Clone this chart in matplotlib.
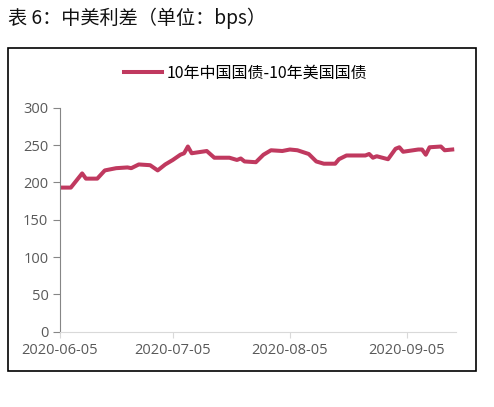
import matplotlib
matplotlib.use("Agg")
import matplotlib.pyplot as plt
import matplotlib.dates as mdates
from matplotlib.patches import Rectangle
import pandas as pd

plt.rcParams['font.family'] = ['Noto Sans CJK SC', 'DejaVu Sans']

# spread (bps)
dates = ['2020-06-05', '2020-06-08', '2020-06-11', '2020-06-12', '2020-06-15',
         '2020-06-17', '2020-06-20', '2020-06-23', '2020-06-24', '2020-06-26',
         '2020-06-29', '2020-07-01', '2020-07-03', '2020-07-05', '2020-07-07',
         '2020-07-08', '2020-07-09', '2020-07-10', '2020-07-14', '2020-07-16',
         '2020-07-20', '2020-07-22', '2020-07-23', '2020-07-24', '2020-07-27',
         '2020-07-29', '2020-07-31', '2020-08-03', '2020-08-05', '2020-08-07',
         '2020-08-10', '2020-08-12', '2020-08-14', '2020-08-17', '2020-08-18',
         '2020-08-20', '2020-08-25', '2020-08-26', '2020-08-27', '2020-08-28',
         '2020-08-31', '2020-09-02', '2020-09-03', '2020-09-04', '2020-09-08',
         '2020-09-09', '2020-09-10', '2020-09-11', '2020-09-14', '2020-09-15',
         '2020-09-17']
spread = [193, 193, 212, 205, 205,
          216, 219, 220, 219, 224,
          223, 216, 224, 230, 237,
          239, 248, 239, 242, 233,
          233, 230, 232, 228, 227,
          237, 243, 242, 244, 243,
          238, 228, 225, 225, 231,
          236, 236, 238, 233, 235,
          231, 245, 247, 241, 244,
          244, 237, 247, 248, 243,
          244]
x_ticks = ['2020-06-05', '2020-07-05', '2020-08-05', '2020-09-05']
y_ticks = [0, 50, 100, 150, 200, 250, 300]

W, H = 494, 407
fig = plt.figure(figsize=(W / 100, H / 100), dpi=100)
ax = fig.add_axes([59.5 / W, 1 - 331.7 / H, (456 - 59.5) / W, (331.7 - 107.7) / H])

x = pd.to_datetime(dates)
ax.plot(x, spread, color='#C0395F', lw=2.9, solid_joinstyle='round',
        label='10年中国国债-10年美国国债')

ax.set_xlim(pd.Timestamp('2020-06-05'), pd.Timestamp('2020-09-18'))
ax.set_ylim(0, 300)
ax.set_xticks(pd.to_datetime(x_ticks))
ax.xaxis.set_major_formatter(mdates.DateFormatter('%Y-%m-%d'))
ax.set_yticks(y_ticks)

for s in ['top', 'right']:
    ax.spines[s].set_visible(False)
ax.spines['left'].set_color('#868686')
ax.spines['bottom'].set_color('#d9d9d9')
ax.tick_params(axis='y', colors='#868686', length=5, width=0.8, pad=3,
               labelsize=10.5, labelcolor='#595959')
ax.tick_params(axis='x', colors='#d9d9d9', length=4, width=0.8, pad=4,
               labelsize=10.5, labelcolor='#595959')
for lab in ax.get_xticklabels() + ax.get_yticklabels():
    lab.set_family(['Open Sans', 'DejaVu Sans'])

fig.legend(loc='center', bbox_to_anchor=(0.497, 1 - 73 / H), frameon=False,
           fontsize=11.5, handlelength=2.4, handletextpad=0.3)

fig.text(8 / W, 1 - 18 / H, '表 6：中美利差（单位：bps）', fontsize=13.8,
         va='center', ha='left', color='#111111')
fig.patches.append(Rectangle((8 / W, 1 - 371 / H), 468 / W, 323 / H,
                             transform=fig.transFigure, fill=False,
                             edgecolor='black', lw=1.2))

fig.savefig('out.png', dpi=100)
